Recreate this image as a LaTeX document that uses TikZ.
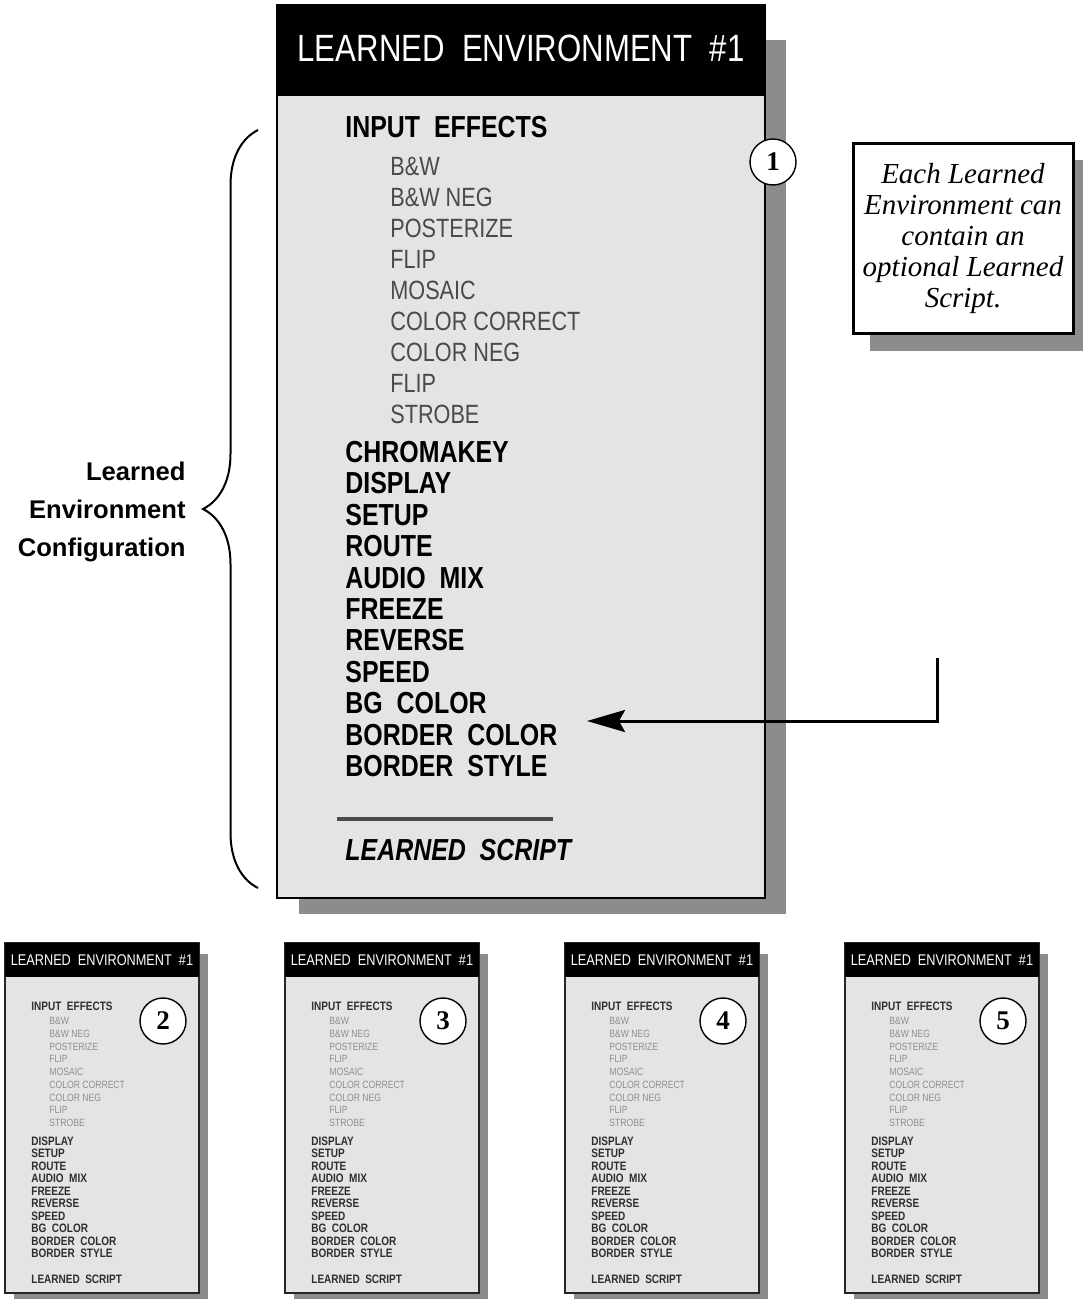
\documentclass[tikz,border=0pt]{standalone}
\usepackage{fontspec}
\setmainfont{Liberation Serif}
\newfontfamily\narrowsans[FakeStretch=0.82]{Liberation Sans}
\newfontfamily\plainsans{Liberation Sans}
\usepackage{xcolor}
\definecolor{PanelGray}{HTML}{E4E4E4}
\definecolor{ShadowGray}{HTML}{8C8C8C}
\definecolor{EffectGray}{HTML}{4A4A4A}
\definecolor{SmallGray}{HTML}{8E8E8E}
\definecolor{SmallInk}{HTML}{2E2E2E}
\usepackage{tikz}
\usetikzlibrary{arrows.meta,decorations.pathreplacing}

\begin{document}
\begin{tikzpicture}[x=0.5pt, y=-0.5pt,
  hdrtext/.style={text=white, inner sep=0pt, font=\narrowsans\fontsize{19}{19}\selectfont},
  bigbold/.style={anchor=west, inner sep=0pt, font=\narrowsans\bfseries\fontsize{15.2}{15.2}\selectfont},
  bigfx/.style={anchor=west, inner sep=0pt, text=EffectGray, font=\narrowsans\fontsize{13.2}{13.2}\selectfont},
  smallhdr/.style={text=white, inner sep=0pt, font=\narrowsans\fontsize{7.75}{7.75}\selectfont},
  smallbold/.style={anchor=west, inner sep=0pt, text=SmallInk, font=\narrowsans\bfseries\fontsize{6.1}{6.1}\selectfont},
  smallfx/.style={anchor=west, inner sep=0pt, text=SmallGray, font=\narrowsans\fontsize{5.25}{5.25}\selectfont},
  numcircle/.style={circle, draw, fill=white, line width=0.7pt, minimum size=23pt, inner sep=0pt,
    font=\bfseries\fontsize{13.5}{13.5}\selectfont},
  notebox/.style={draw, fill=white, line width=1.5pt, minimum width=110pt, minimum height=94.5pt,
    inner sep=0pt, align=center, font=\itshape\fontsize{14.5}{15.5}\selectfont}]
  \useasboundingbox (0,0) rectangle (1084,1299);

  % --- Main panel (Learned Environment #1) ---
  \fill[ShadowGray] (299,40) rectangle (786,914);
  \filldraw[fill=PanelGray, draw=black, line width=1.2pt] (277,5) rectangle (765,898);
  \fill[black] (277,5) rectangle (765,96);
  \node[hdrtext] (hdr1) at (521,48) {LEARNED\ \ ENVIRONMENT\ \ \#1};

  \node[bigbold] (fxhead1) at (345,127) {INPUT\ \ EFFECTS};
  \foreach \txt [count=\i from 0] in {B\&W, B\&W NEG, POSTERIZE, FLIP, MOSAIC,
      COLOR CORRECT, COLOR NEG, FLIP, STROBE}
    \node[bigfx] (fx1-\i) at (390,{166+31*\i}) {\txt};
  \foreach \txt [count=\i from 0] in {CHROMAKEY, DISPLAY, SETUP, ROUTE, AUDIO\ \ MIX, FREEZE,
      REVERSE, SPEED, BG\ \ COLOR, BORDER\ \ COLOR, BORDER\ \ STYLE}
    \node[bigbold] (cfg1-\i) at (345,{452+31.4*\i}) {\txt};

  \draw[EffectGray, line width=1.6pt] (337,819) -- (553,819);
  \node[bigbold, font=\narrowsans\bfseries\itshape\fontsize{15.2}{15.2}\selectfont]
    (script1) at (345,850) {LEARNED\ \ SCRIPT};
  \node[numcircle] (num1) at (773,162) {1};

  % --- Note box ---
  \fill[ShadowGray] (870,160) rectangle (1083,351);
  \node[notebox] (note) at (963,238.5)
    {Each Learned\\Environment can\\contain an\\optional Learned\\Script.};

  % --- Arrow towards the list ---
  \coordinate (linkstart) at (937,658);
  \coordinate (linkend) at (587,721);
  \draw[line width=1.5pt, -{Stealth[length=19pt, width=11pt, inset=3pt]}] (linkstart) |- (linkend);

  % --- Brace and its label ---
  \coordinate (bracebot) at (258,888);
  \coordinate (bracetop) at (258,130);
  \draw[line width=1pt, decorate, decoration={brace, amplitude=27.5pt}] (bracebot) -- (bracetop);
  \node[anchor=east, align=right, inner sep=0pt,
    font=\plainsans\bfseries\fontsize{12.8}{19}\selectfont]
    (cfglabel) at (186,512) {Learned\\Environment\\Configuration};

  % --- Small panels 2 to 5 ---
  \foreach \n/\pleft in {2/5, 3/285, 4/565, 5/845} {
    \fill[ShadowGray] (\pleft+9,954) rectangle (\pleft+203,1299);
    \filldraw[fill=PanelGray, draw=black!85, line width=0.8pt] (\pleft,943) rectangle (\pleft+194,1293);
    \fill[black] (\pleft,943) rectangle (\pleft+194,977);
    \node[smallhdr] (hdr\n) at (\pleft+97,960) {LEARNED\ \ ENVIRONMENT\ \ \#1};
    \node[smallbold] (fxhead\n) at (\pleft+26,1006) {INPUT\ \ EFFECTS};
    \foreach \txt [count=\i from 0] in {B\&W, B\&W NEG, POSTERIZE, FLIP, MOSAIC,
        COLOR CORRECT, COLOR NEG, FLIP, STROBE}
      \node[smallfx] (fx\n-\i) at (\pleft+44,{1021+12.75*\i}) {\txt};
    \foreach \txt [count=\i from 0] in {DISPLAY, SETUP, ROUTE, AUDIO\ \ MIX, FREEZE,
        REVERSE, SPEED, BG\ \ COLOR, BORDER\ \ COLOR, BORDER\ \ STYLE}
      \node[smallbold] (cfg\n-\i) at (\pleft+26,{1141+12.5*\i}) {\txt};
    \node[smallbold] (script\n) at (\pleft+26,1279) {LEARNED\ \ SCRIPT};
    \node[numcircle] (num\n) at (\pleft+158,1021) {\n};
  }
\end{tikzpicture}
\end{document}
